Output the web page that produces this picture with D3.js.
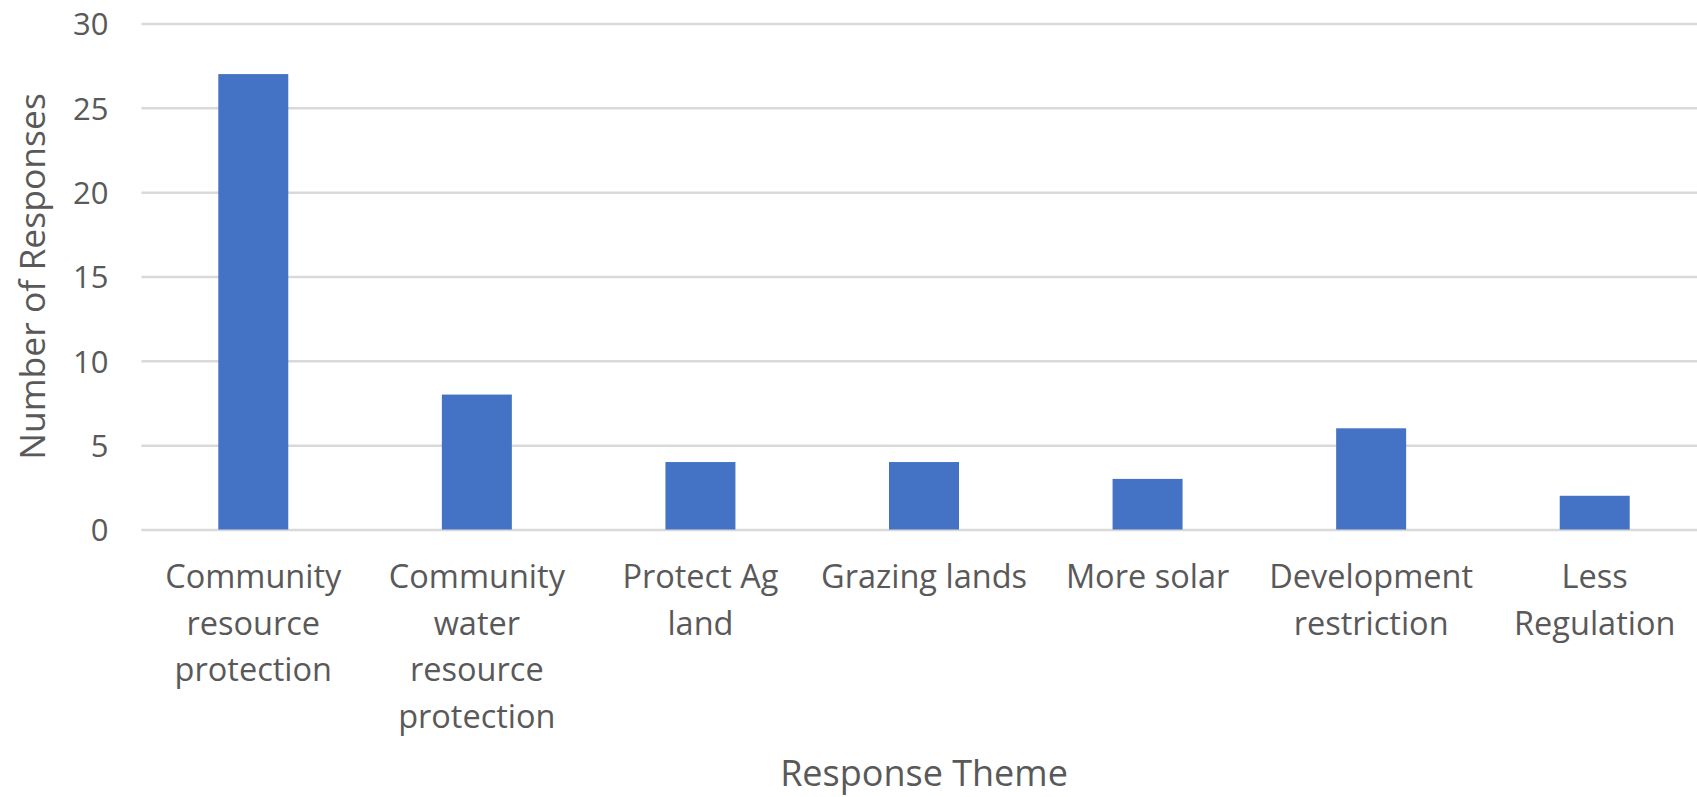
<!DOCTYPE html>
<html>
<head>
<meta charset="utf-8">
<script src="https://cdn.jsdelivr.net/npm/d3@7"></script>
<style>
  html, body { margin: 0; padding: 0; background: #ffffff; }
  svg { display: block; }
  text { font-family: "Open Sans", Lato, sans-serif; fill: #595959; }
</style>
</head>
<body>
<svg id="chart" width="1697" height="797"></svg>
<script>
const categories = [
  ["Community", "resource", "protection"],
  ["Community", "water", "resource", "protection"],
  ["Protect Ag", "land"],
  ["Grazing lands"],
  ["More solar"],
  ["Development", "restriction"],
  ["Less", "Regulation"]
];
const categoryKeys = categories.map(c => c.join(" "));
const values = [27, 8, 4, 4, 3, 6, 2];
const yTicks = [0, 5, 10, 15, 20, 25, 30];
const yTitle = "Number of Responses";
const xTitle = "Response Theme";

(function() {
const svg = d3.select("#chart");
const mLeft = 141.5, mRight = 1706.5, mTop = 23.5, mBottom = 529.5;
const FONT = "'Open Sans', Lato, sans-serif";

const x = d3.scaleBand().domain(categoryKeys).range([mLeft, mRight]).paddingInner(0.687).paddingOuter(0.3435);
const y = d3.scaleLinear().domain([0, 30]).range([mBottom, mTop]);

const yAxis = d3.axisLeft(y).tickValues(yTicks).tickSize(-(mRight - mLeft)).tickPadding(33);
const gy = svg.append("g").attr("transform", `translate(${mLeft},0)`).call(yAxis);
gy.select(".domain").remove();
gy.selectAll(".tick line").attr("stroke", "#d9d9d9").attr("stroke-width", 2.5);
gy.selectAll(".tick text").attr("font-size", 31).attr("fill", "#595959")
  .style("font-family", FONT).attr("dy", "0.36em");

svg.append("g").selectAll("rect").data(values).join("rect")
  .attr("x", (d, i) => x(categoryKeys[i]))
  .attr("width", x.bandwidth())
  .attr("y", d => y(d))
  .attr("height", d => y(0) - y(d))
  .attr("fill", "#4472c4");

const lab = svg.append("g").selectAll("text").data(categories).join("text")
  .attr("text-anchor", "middle")
  .attr("font-size", 32.5)
  .attr("x", (d, i) => x(categoryKeys[i]) + x.bandwidth() / 2)
  .attr("y", 588);
lab.selectAll("tspan").data(d => d).join("tspan")
  .attr("x", function() { return d3.select(this.parentNode).attr("x"); })
  .attr("dy", (d, i) => i === 0 ? 0 : 46.7)
  .text(d => d);

svg.append("text").attr("text-anchor", "middle").attr("font-size", 36)
  .attr("x", (mLeft + mRight) / 2).attr("y", 786).text(xTitle);

svg.append("text").attr("text-anchor", "middle").attr("font-size", 35.5)
  .attr("transform", `translate(45,${(mTop + mBottom) / 2}) rotate(-90)`).text(yTitle);
})();
</script>
</body>
</html>
